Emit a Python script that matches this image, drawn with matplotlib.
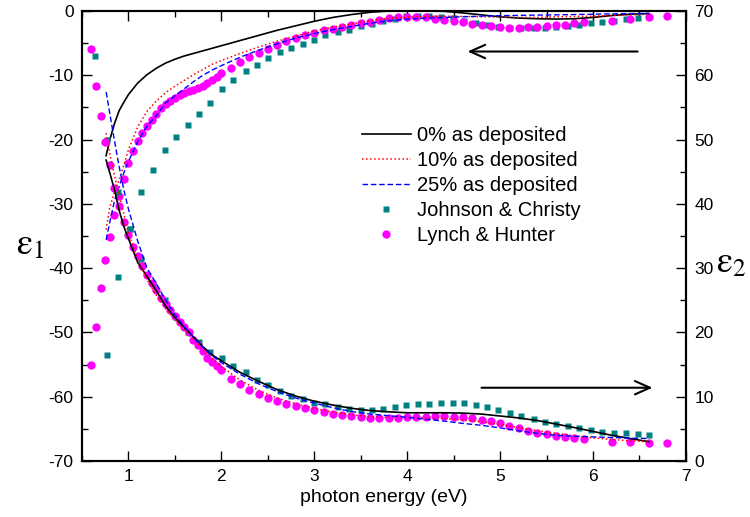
import matplotlib
matplotlib.use('Agg')
import matplotlib.pyplot as plt
from matplotlib.ticker import MultipleLocator

plt.rcParams.update({'font.family': ['Liberation Sans', 'DejaVu Sans'], 'font.size': 12,
                     'axes.unicode_minus': False, 'mathtext.fontset': 'stix'})

# model curves (0 / 10 / 25 % as deposited)
x_fit = [0.76, 0.8, 0.85, 0.9, 0.95, 1.0, 1.1, 1.2, 1.3, 1.4, 1.5, 1.6, 1.7, 1.8, 1.9, 2.0,
         2.2, 2.4, 2.6, 2.8, 3.0, 3.2, 3.4, 3.6, 3.8, 4.0, 4.2, 4.4, 4.6, 4.8, 5.0, 5.2, 5.4,
         5.6, 5.8, 6.0, 6.2, 6.4, 6.6]
e1_0 = [-22.5, -20.0, -17.5, -15.5, -14.2, -13.0, -11.2, -9.9, -8.9, -8.1, -7.5, -7.0, -6.6,
        -6.2, -5.8, -5.4, -4.6, -3.8, -3.0, -2.3, -1.6, -1.0, -0.55, -0.2, 0.0, 0.0, 0.0, -0.05,
        -0.3, -0.6, -0.9, -1.1, -1.2, -1.25, -1.2, -1.0, -0.7, -0.5, -0.4]
e2_0 = [46.8, 44.8, 42.2, 39.0, 36.5, 34.6, 30.9, 28.7, 26.5, 24.1, 22.3, 20.8, 19.3, 17.8,
        16.5, 15.6, 13.8, 12.4, 11.1, 10.1, 9.3, 8.7, 8.2, 7.85, 7.65, 7.5, 7.5, 7.5, 7.45,
        7.3, 7.0, 6.7, 6.3, 5.75, 5.2, 4.6, 4.0, 3.5, 3.0]
e1_10 = [-34.0, -30.5, -28.2, -26.3, -24.0, -21.6, -18.0, -15.6, -14.0, -12.7, -11.7, -10.8,
         -9.9, -9.1, -8.3, -7.7, -6.6, -5.6, -4.7, -3.9, -3.1, -2.5, -2.0, -1.5, -1.15, -0.95,
         -0.85, -0.8, -0.85, -0.9, -0.95, -1.0, -1.0, -0.9, -0.85, -0.8, -0.7, -0.6, -0.5]
e2_10 = [51.0, 47.8, 44.4, 41.4, 38.5, 35.4, 31.4, 28.2, 25.8, 23.7, 22.0, 20.4, 18.9, 17.4,
         16.0, 14.7, 12.6, 11.0, 9.8, 8.9, 8.2, 7.6, 7.2, 6.9, 6.8, 6.75, 6.7, 6.6, 6.4, 6.1,
         5.7, 5.2, 4.7, 4.3, 3.9, 3.6, 3.35, 3.15, 3.0]
e1_25 = [-35.6, -32.8, -29.5, -27.3, -25.2, -23.4, -20.3, -17.9, -16.3, -14.3, -13.2, -12.1,
         -11.0, -10.0, -9.2, -8.5, -7.2, -6.1, -5.1, -4.2, -3.5, -2.9, -2.4, -1.9, -1.5, -1.25,
         -1.1, -1.0, -0.9, -0.8, -0.72, -0.68, -0.63, -0.6, -0.55, -0.5, -0.45, -0.4, -0.36]
e2_25 = [57.4, 54.0, 49.8, 45.8, 42.2, 39.2, 34.2, 30.0, 27.6, 25.0, 22.8, 20.9, 19.2, 17.7,
         16.4, 15.3, 13.5, 12.0, 10.8, 9.8, 9.0, 8.3, 7.7, 7.3, 7.05, 6.8, 6.5, 6.2, 5.85, 5.55,
         5.15, 4.7, 4.3, 4.0, 3.85, 3.75, 3.65, 3.55, 3.5]

# Johnson & Christy
x_jc = [0.64, 0.77, 0.89, 1.02, 1.14, 1.26, 1.39, 1.51, 1.64, 1.76, 1.88, 2.01, 2.13, 2.26,
        2.38, 2.50, 2.63, 2.75, 2.88, 3.00, 3.12, 3.25, 3.37, 3.50, 3.62, 3.74, 3.87, 3.99,
        4.12, 4.24, 4.36, 4.49, 4.61, 4.74, 4.86, 4.98, 5.11, 5.23, 5.36, 5.48, 5.60, 5.73,
        5.85, 5.98, 6.10, 6.23, 6.35, 6.48, 6.60]
e1_jc = [None, -53.5, -41.4, -33.9, -28.2, -24.7, -21.6, -19.6, -17.8, -16.0, -14.3, -12.2,
         -10.7, -9.4, -8.35, -7.3, -6.4, -5.75, -5.1, -4.5, -3.7, -3.22, -2.9, -2.4, -2.02,
         -1.6, -1.19, -0.78, -0.78, -0.78, -0.88, -1.14, -1.5, -1.82, -2.23, -2.44, -2.64,
         -2.64, -2.7, -2.64, -2.54, -2.33, -2.18, -1.92, -1.71, -1.5, -1.24, -1.04, -0.95]
e2_jc = [63.0, 49.9, 41.8, 36.1, 31.4, 27.6, 25.0, 22.35, 20.1, 18.55, 17.0, 16.0, 14.8,
         13.85, 12.6, 11.8, 10.95, 10.16, 9.6, 9.1, 8.8, 8.45, 8.1, 7.93, 7.93, 8.1, 8.44,
         8.76, 8.8, 8.87, 9.07, 9.07, 8.97, 8.7, 8.44, 7.93, 7.5, 7.0, 6.48, 6.0, 5.7, 5.44,
         5.18, 4.82, 4.56, 4.4, 4.3, 4.2, 4.04]

# Lynch & Hunter
x_lh = [0.6, 0.65, 0.7, 0.75, 0.8, 0.85, 0.9, 0.95, 1.0, 1.05, 1.1, 1.15, 1.2, 1.25, 1.3,
        1.35, 1.4, 1.45, 1.5, 1.55, 1.6, 1.65, 1.7, 1.75, 1.8, 1.85, 1.9, 1.95, 2.0, 2.1, 2.2,
        2.3, 2.4, 2.5, 2.6, 2.7, 2.8, 2.9, 3.0, 3.1, 3.2, 3.3, 3.4, 3.5, 3.6, 3.7, 3.8, 3.9,
        4.0, 4.1, 4.2, 4.3, 4.4, 4.5, 4.6, 4.7, 4.8, 4.9, 5.0, 5.1, 5.2, 5.3, 5.4, 5.5, 5.6,
        5.7, 5.8, 5.9, 6.2, 6.4, 6.6, 6.8]
e1_lh = [-55.0, -49.2, -43.1, -38.7, -35.1, -31.7, -28.8, -26.1, -23.6, -21.8, -20.2, -19.0,
         -17.9, -16.9, -16.0, -15.1, -14.4, -14.0, -13.5, -13.1, -12.7, -12.4, -12.3, -12.0,
         -11.6, -11.2, -10.8, -10.3, -9.6, -8.8, -7.9, -7.2, -6.5, -5.9, -5.25, -4.7, -4.25,
         -3.8, -3.4, -3.0, -2.75, -2.45, -2.15, -1.85, -1.75, -1.4, -1.15, -1.0, -1.0, -1.0,
         -1.0, -1.2, -1.4, -1.55, -1.75, -2.0, -2.15, -2.33, -2.49, -2.59, -2.62, -2.54,
         -2.45, -2.33, -2.23, -2.1, -1.93, -1.78, -1.48, -1.19, -1.0, -0.78]
e2_lh = [64.1, 58.4, 53.7, 49.7, 46.1, 42.5, 39.6, 37.2, 35.1, 33.3, 31.9, 30.4, 29.0, 27.7,
         26.6, 25.4, 24.5, 23.5, 22.6, 21.7, 20.9, 20.1, 18.9, 18.0, 17.1, 16.1, 15.45, 14.8,
         14.1, 12.8, 12.0, 11.1, 10.5, 9.8, 9.3, 8.9, 8.5, 8.2, 7.9, 7.6, 7.36, 7.16, 7.0,
         6.84, 6.74, 6.69, 6.74, 6.74, 6.79, 6.84, 6.89, 7.0, 7.0, 6.9, 6.8, 6.64, 6.4, 6.2,
         5.96, 5.5, 5.1, 4.7, 4.4, 4.2, 3.94, 3.68, 3.53, 3.37, 3.0, 2.9, 2.85, 2.75]

teal = '#008080'
mag = '#ff00ff'

fig = plt.figure(figsize=(7.5, 5.17), dpi=100)
ax = fig.add_axes([0.1093, 0.1083, 0.8053, 0.8704])
ax2 = ax.twinx()

h_jc, = ax.plot(x_jc, [v if v is not None else float('nan') for v in e1_jc], 's',
                color=teal, ms=5.0, mec='none', label='Johnson & Christy')
h_lh, = ax.plot(x_lh, e1_lh, 'o', color=mag, ms=6.0, mec='none', label='Lynch & Hunter')
ax2.plot(x_jc, e2_jc, 's', color=teal, ms=5.0, mec='none')
ax2.plot(x_lh, e2_lh, 'o', color=mag, ms=6.0, mec='none')

h0, = ax.plot(x_fit, e1_0, '-', color='black', lw=1.2, label='0% as deposited')
h10, = ax.plot(x_fit, e1_10, ':', color='red', lw=1.1, label='10% as deposited')
h25, = ax.plot(x_fit, e1_25, '--', color='blue', lw=1.0, dashes=(4, 2), label='25% as deposited')
ax2.plot(x_fit, e2_0, '-', color='black', lw=1.2)
ax2.plot(x_fit, e2_10, ':', color='red', lw=1.1)
ax2.plot(x_fit, e2_25, '--', color='blue', lw=1.0, dashes=(4, 2))

ax.set_xlim(0.5, 7)
ax.set_ylim(-70, 0)
ax2.set_ylim(0, 70)

ax.xaxis.set_major_locator(MultipleLocator(1))
ax.xaxis.set_minor_locator(MultipleLocator(0.5))
ax.yaxis.set_major_locator(MultipleLocator(10))
ax.yaxis.set_minor_locator(MultipleLocator(5))
ax2.yaxis.set_major_locator(MultipleLocator(10))
ax2.yaxis.set_minor_locator(MultipleLocator(5))

ax.tick_params(axis='x', which='both', direction='in', top=True, labelsize=12.5, pad=6)
ax.tick_params(axis='y', which='both', direction='in', right=False, labelsize=12.5, pad=6)
ax2.tick_params(axis='y', which='both', direction='in', labelsize=12.5, pad=6)
for a in (ax, ax2):
    a.tick_params(which='major', length=7, width=1)
    a.tick_params(which='minor', length=4, width=1)
    for s in a.spines.values():
        s.set_linewidth(1.5)

ax.set_xlabel('photon energy (eV)', fontsize=14, labelpad=3)
ax.set_ylabel(r'$\mathrm{\varepsilon}_1$', fontsize=26, rotation=0, va='center', ha='center')
ax.yaxis.set_label_coords(-0.085, 0.48)
ax2.set_ylabel(r'$\mathrm{\varepsilon}_2$', fontsize=26, rotation=0, va='center', ha='center')
ax2.yaxis.set_label_coords(1.075, 0.44)

arrow = dict(arrowstyle='->,head_length=0.9,head_width=0.4', lw=1.5, color='black')
ax.annotate('', xy=(4.62, -6.3), xytext=(6.51, -6.3), arrowprops=arrow)
ax.annotate('', xy=(6.67, -58.6), xytext=(4.77, -58.6), arrowprops=arrow)

ax.legend(handles=[h0, h10, h25, h_jc, h_lh], loc='upper left', bbox_to_anchor=(0.463, 0.745),
          frameon=False, fontsize=14.5, handlelength=2.45, handletextpad=0.3, labelspacing=0.3,
          borderpad=0, borderaxespad=0)

fig.savefig('out.png', dpi=100)
